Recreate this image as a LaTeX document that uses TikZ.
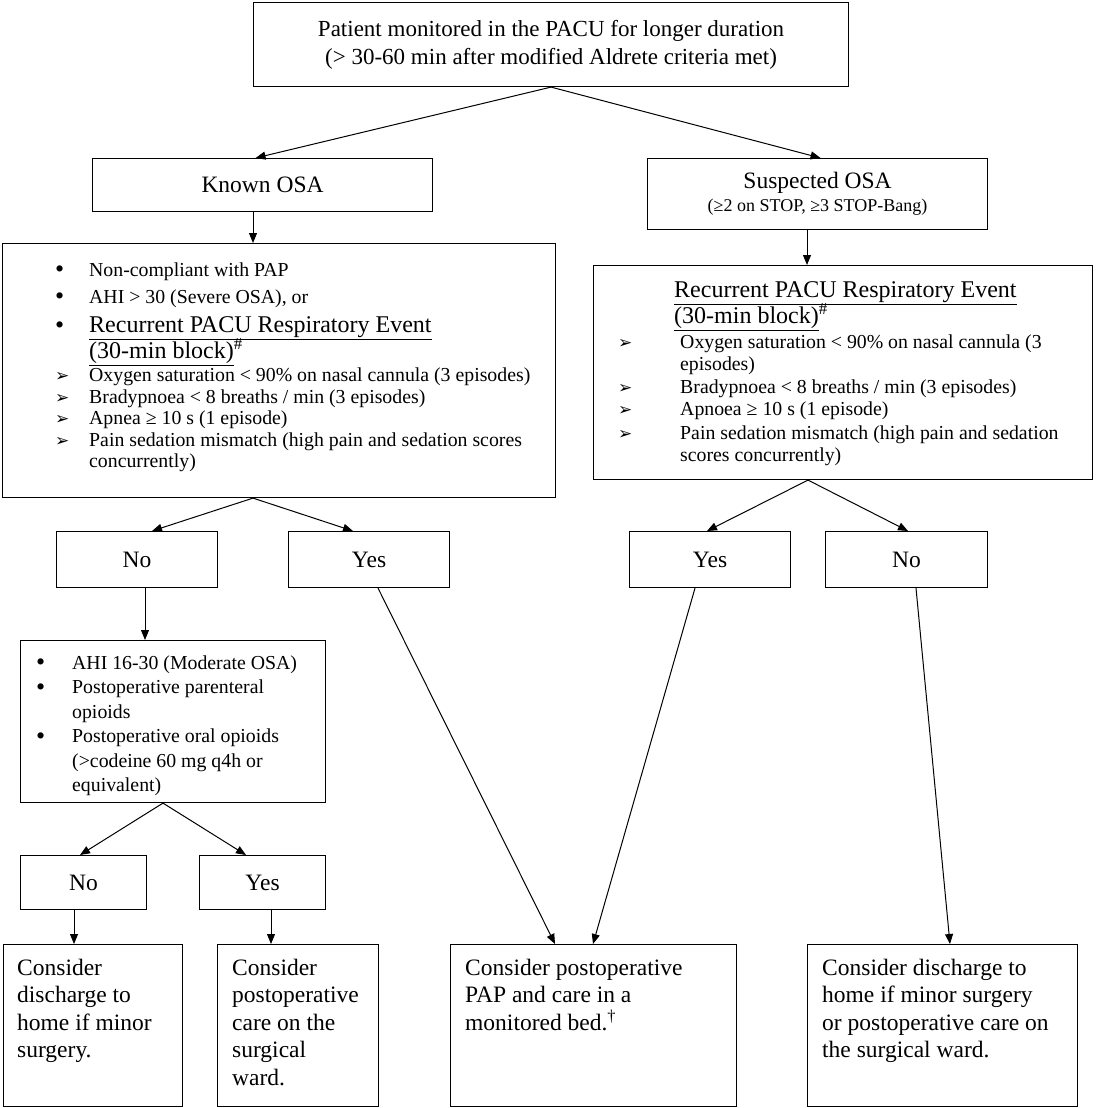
\documentclass[tikz,border=0pt]{standalone}
\usepackage{fontspec}
\setmainfont{Liberation Serif}
\newfontfamily\dejavu{DejaVu Sans}
\usetikzlibrary{arrows.meta}
\newlength{\mkw}
\newcommand{\Lline}[3]{{\fontsize{#2}{#1}\selectfont\noindent\mbox{#3}\par}}
\newcommand{\mkb}[2][\mkw]{\makebox[#1][l]{#2}}
\newcommand{\blt}{{\fontsize{26}{19.5}\selectfont\raisebox{-1.5pt}{\textbullet}}}
\newcommand{\arrmk}{{\dejavu\fontsize{17}{17}\selectfont ➢}}
\begin{document}
\begin{tikzpicture}[x=1pt,y=-1pt,
  box/.style={draw, line width=1.1pt, anchor=north west, inner sep=0pt, align=center,
    font=\fontsize{23.5}{28}\selectfont},
  txt/.style={anchor=north west, inner sep=0pt},
  arr/.style={-{Triangle[length=10pt,width=8pt]}, line width=1pt}]
\useasboundingbox (0,0) rectangle (1095,1108);
% boxes
\node[box, minimum width=595pt, minimum height=84pt, font=\fontsize{23}{28}\selectfont] (top) at (253,2)
  {Patient monitored in the PACU for longer duration\\(> 30-60 min after modified Aldrete criteria met)};
\node[box, minimum width=340pt, minimum height=53pt] (known) at (92,158) {Known OSA};
\node[box, minimum width=340pt, minimum height=71pt] (susp) at (647,158)
  {Suspected OSA\\[-5pt]{\fontsize{18}{20}\selectfont (≥2 on STOP, ≥3 STOP-Bang)}};
\node[box, minimum width=553pt, minimum height=254pt] (klist) at (2,243) {};
\node[box, minimum width=499pt, minimum height=214pt] (slist) at (593,265) {};
\node[box, minimum width=161pt, minimum height=56pt] (kno) at (56,531) {No};
\node[box, minimum width=161pt, minimum height=56pt] (kyes) at (288,531) {Yes};
\node[box, minimum width=161pt, minimum height=56pt] (syes) at (629,531) {Yes};
\node[box, minimum width=162pt, minimum height=56pt] (sno) at (825,531) {No};
\node[box, minimum width=305pt, minimum height=162pt] (mod) at (20,640) {};
\node[box, minimum width=126pt, minimum height=54pt] (mno) at (20,855) {No};
\node[box, minimum width=126pt, minimum height=54pt] (myes) at (199,855) {Yes};
\node[box, minimum width=179pt, minimum height=162pt] (b1) at (3,944) {};
\node[box, minimum width=161pt, minimum height=162pt] (b2) at (217,944) {};
\node[box, minimum width=286pt, minimum height=162pt] (b3) at (450,944) {};
\node[box, minimum width=270pt, minimum height=162pt] (b4) at (807,944) {};
% texts in boxes
\setlength{\mkw}{34pt}
\node[txt] (klistt) at ([xshift=53pt]klist.north west) {\parbox[t]{540pt}{\lineskiplimit=-50pt
\Lline{0}{19.8}{\rule{0pt}{33pt}\mkb{\blt}Non-compliant with PAP}
\Lline{27}{19.8}{\mkb{\blt}AHI > 30 (Severe OSA), or}
\Lline{29}{24}{\mkb{\blt}\underline{Recurrent PACU Respiratory Event}}
\Lline{26.5}{24}{\mkb{}\underline{(30-min block)}\textsuperscript{\#}}
\Lline{23}{19.8}{\mkb{\arrmk}Oxygen saturation < 90\% on nasal cannula (3 episodes)}
\Lline{21.5}{19.8}{\mkb{\arrmk}Bradypnoea < 8 breaths / min (3 episodes)}
\Lline{21.5}{19.8}{\mkb{\arrmk}Apnea ≥ 10 s (1 episode)}
\Lline{21.5}{19.8}{\mkb{\arrmk}Pain sedation mismatch (high pain and sedation scores}
\Lline{21.5}{19.8}{\mkb{}concurrently)}}};
\setlength{\mkw}{62pt}
\node[txt] (slistt) at ([xshift=25pt]slist.north west) {\parbox[t]{480pt}{\lineskiplimit=-50pt
\Lline{0}{24}{\rule{0pt}{32pt}\mkb[56pt]{}\underline{Recurrent PACU Respiratory Event}}
\Lline{26}{24}{\mkb[56pt]{}\underline{(30-min block)}\textsuperscript{\#}}
\Lline{25}{19.8}{\mkb{\arrmk}Oxygen saturation < 90\% on nasal cannula (3}
\Lline{22}{19.8}{\mkb{}episodes)}
\Lline{23}{19.8}{\mkb{\arrmk}Bradypnoea < 8 breaths / min (3 episodes)}
\Lline{22.5}{19.8}{\mkb{\arrmk}Apnoea ≥ 10 s (1 episode)}
\Lline{23.5}{19.8}{\mkb{\arrmk}Pain sedation mismatch (high pain and sedation}
\Lline{22.5}{19.8}{\mkb{}scores concurrently)}}};
\setlength{\mkw}{36pt}
\node[txt] (modt) at ([xshift=16pt]mod.north west) {\parbox[t]{300pt}{\lineskiplimit=-50pt
\Lline{0}{19.8}{\rule{0pt}{29pt}\mkb{\blt}AHI 16-30 (Moderate OSA)}
\Lline{24.5}{19.8}{\mkb{\blt}Postoperative parenteral}
\Lline{24.5}{19.8}{\mkb{}opioids}
\Lline{24.5}{19.8}{\mkb{\blt}Postoperative oral opioids}
\Lline{24.5}{19.8}{\mkb{}(>codeine 60 mg q4h or}
\Lline{24.5}{19.8}{\mkb{}equivalent)}}};
\node[txt] (b1t) at ([xshift=14pt]b1.north west) {\parbox[t]{170pt}{\lineskiplimit=-50pt
\Lline{0}{23.5}{\rule{0pt}{31pt}Consider}
\Lline{27.5}{23.5}{discharge to}
\Lline{27.5}{23.5}{home if minor}
\Lline{27.5}{23.5}{surgery.}}};
\node[txt] (b2t) at ([xshift=15pt]b2.north west) {\parbox[t]{170pt}{\lineskiplimit=-50pt
\Lline{0}{23.5}{\rule{0pt}{31pt}Consider}
\Lline{27.5}{23.5}{postoperative}
\Lline{27.5}{23.5}{care on the}
\Lline{27.5}{23.5}{surgical}
\Lline{27.5}{23.5}{ward.}}};
\node[txt] (b3t) at ([xshift=15pt]b3.north west) {\parbox[t]{270pt}{\lineskiplimit=-50pt
\Lline{0}{23.5}{\rule{0pt}{31pt}Consider postoperative}
\Lline{27.5}{23.5}{PAP and care in a}
\Lline{27.5}{23.5}{monitored bed.\textsuperscript{\textdagger}}}};
\node[txt] (b4t) at ([xshift=15pt]b4.north west) {\parbox[t]{270pt}{\lineskiplimit=-50pt
\Lline{0}{23.5}{\rule{0pt}{31pt}Consider discharge to}
\Lline{27.5}{23.5}{home if minor surgery}
\Lline{27.5}{23.5}{or postoperative care on}
\Lline{27.5}{23.5}{the surgical ward.}}};
% connectors
\draw[arr] (top.south) -- ([xshift=-7pt]known.north);
\draw[arr] (top.south) -- ([xshift=3pt]susp.north);
\draw[arr] ([xshift=161pt]known.south west) -- ([xshift=251pt]klist.north west);
\draw[arr] ([xshift=160pt]susp.south west) -- ([xshift=214pt]slist.north west);
\draw[arr] ([xshift=251pt]klist.south west) -- ([xshift=96pt]kno.north west);
\draw[arr] ([xshift=251pt]klist.south west) -- ([xshift=65pt]kyes.north west);
\draw[arr] ([xshift=215pt]slist.south west) -- ([xshift=78pt]syes.north west);
\draw[arr] ([xshift=215pt]slist.south west) -- ([xshift=83pt]sno.north west);
\draw[arr] ([xshift=89pt]kno.south west) -- ([xshift=125pt]mod.north west);
\draw[arr] ([xshift=143pt]mod.south west) -- ([xshift=60pt]mno.north west);
\draw[arr] ([xshift=143pt]mod.south west) -- ([xshift=47pt]myes.north west);
\draw[arr] ([xshift=54pt]mno.south west) -- ([xshift=71pt]b1.north west);
\draw[arr] ([xshift=72pt]myes.south west) -- ([xshift=54pt]b2.north west);
\draw[arr] ([xshift=90pt]kyes.south west) -- ([xshift=105pt]b3.north west);
\draw[arr] ([xshift=66pt]syes.south west) -- ([xshift=143pt]b3.north west);
\draw[arr] ([xshift=91pt]sno.south west) -- ([xshift=143pt]b4.north west);
\end{tikzpicture}
\end{document}
